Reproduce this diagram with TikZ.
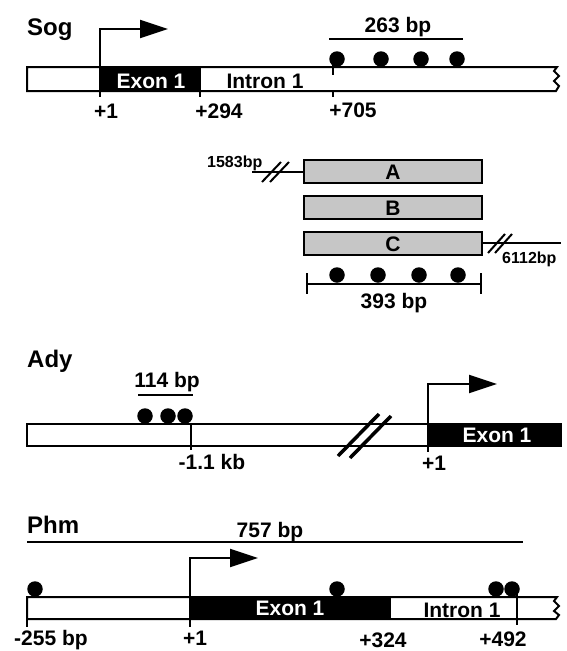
\documentclass[tikz,border=0pt]{standalone}
\usepackage{fontspec}
\setmainfont{Liberation Sans}
\usetikzlibrary{arrows.meta}
\begin{document}
\begin{tikzpicture}[x=1pt,y=-1pt,
  lbl/.style={font=\fontsize{21}{21}\selectfont\bfseries, inner sep=0pt, anchor=base},
  ttl/.style={font=\fontsize{24}{24}\selectfont\bfseries, inner sep=0pt, anchor=base west},
  smalllbl/.style={font=\fontsize{16}{16}\selectfont\bfseries, inner sep=0pt, anchor=base west},
  wlbl/.style={lbl, text=white},
  barw/.style={draw, line width=2pt, fill=white, line join=miter},
  exonbox/.style={draw, line width=2pt, fill=black},
  tss/.style={line width=2pt, -{Triangle[length=28pt,width=18pt]}},
  dotc/.style={fill=black, circle, minimum size=15.5pt, inner sep=0pt},
  ln/.style={line width=2pt},
  slash/.style={line width=2pt},
  bigslash/.style={line width=3.5pt},
  gbox/.style={draw, line width=2pt, fill=gray!45}]
\useasboundingbox (0,0) rectangle (567,651);

% ================= Sog =================
\node[ttl] (sogT) at (27,35) {Sog};
\draw[barw] (27,67) -- (557,67) -- (554,71) -- (559,76) -- (554,81) -- (559,86) -- (556,91) -- (27,91) -- cycle;
\draw[exonbox] (100,67) rectangle (200,91);
\node[wlbl] (sogEx) at (151,88) {Exon 1};
\node[lbl] (sogIn) at (265,88) {Intron 1};
\coordinate (sogS) at (100,67);
\coordinate (sogA) at (168,29);
\draw[tss] (sogS) |- (sogA);
\coordinate (sogt1a) at (100,91); \coordinate (sogt1b) at (100,97);
\coordinate (sogt2a) at (200,91); \coordinate (sogt2b) at (200,97);
\coordinate (sogt3a) at (333,59); \coordinate (sogt3b) at (333,75);
\coordinate (sogt3c) at (333,91); \coordinate (sogt3d) at (333,97);
\draw[ln] (sogt1a) -- (sogt1b);
\draw[ln] (sogt2a) -- (sogt2b);
\draw[ln] (sogt3a) -- (sogt3b);
\draw[ln] (sogt3c) -- (sogt3d);
\node[lbl] (sogP1) at (106,118) {+1};
\node[lbl] (sogP2) at (219,118) {+294};
\node[lbl] (sogP3) at (353,117) {+705};
\coordinate (sogL1) at (329,39); \coordinate (sogL2) at (463,39);
\draw[ln] (sogL1) -- (sogL2);
\node[lbl] (sog263) at (398,32) {263 bp};
\node[dotc] (sd1) at (337,59) {};
\node[dotc] (sd2) at (381,59) {};
\node[dotc] (sd3) at (421,59) {};
\node[dotc] (sd4) at (457,59) {};

% ================= A B C =================
\draw[gbox] (304,160) rectangle (482,183);
\draw[gbox] (304,196) rectangle (482,219);
\draw[gbox] (304,232) rectangle (482,255);
\node[lbl] (bA) at (393,179) {A};
\node[lbl] (bB) at (393,215) {B};
\node[lbl] (bC) at (393,251) {C};
\coordinate (lA1) at (252,172); \coordinate (lA2) at (304,172);
\draw[ln] (lA1) -- (lA2);
\draw[slash] (262,182) -- (281,162);
\draw[slash] (270,182) -- (289,162);
\node[smalllbl] (t1583) at (207,167) {1583bp};
\coordinate (lC1) at (482,243); \coordinate (lC2) at (561,243);
\draw[ln] (lC1) -- (lC2);
\draw[slash] (488,253) -- (505,234);
\draw[slash] (495,253) -- (512,234);
\node[smalllbl] (t6112) at (502,263) {6112bp};
\coordinate (s393a) at (307,284); \coordinate (s393b) at (481,284);
\draw[ln] (s393a) -- (s393b);
\draw[ln] (307,273) -- (307,294);
\draw[ln] (481,273) -- (481,294);
\node[dotc] (cd1) at (337,275) {};
\node[dotc] (cd2) at (378,275) {};
\node[dotc] (cd3) at (419,275) {};
\node[dotc] (cd4) at (458,275) {};
\node[lbl] (t393) at (394,308) {393 bp};

% ================= Ady =================
\node[ttl] (adyT) at (27,367) {Ady};
\draw[barw] (27,424) rectangle (428,446);
\draw[exonbox] (428,424) rectangle (561,446);
\node[wlbl] (adyEx) at (497,442) {Exon 1};
\draw[bigslash] (338,456) -- (379,414);
\draw[bigslash] (350,458) -- (391,416);
\coordinate (adyS) at (428,424);
\coordinate (adyA) at (497,384);
\draw[tss] (adyS) |- (adyA);
\draw[ln] (428,446) -- (428,452);
\coordinate (adyt1) at (191,424); \coordinate (adyt2) at (191,450);
\draw[ln] (adyt1) -- (adyt2);
\coordinate (adyL1) at (138,395); \coordinate (adyL2) at (193,395);
\draw[ln] (adyL1) -- (adyL2);
\node[lbl] (ady114) at (167,387) {114 bp};
\node[dotc] (ad1) at (145,416) {};
\node[dotc] (ad2) at (168,416) {};
\node[dotc] (ad3) at (185,416) {};
\node[lbl] (adyKb) at (212,469) {-1.1 kb};
\node[lbl] (adyP1) at (434,470) {+1};

% ================= Phm =================
\node[ttl] (phmT) at (27,533) {Phm};
\coordinate (phL1) at (27,542); \coordinate (phL2) at (523,542);
\draw[ln] (phL1) -- (phL2);
\node[lbl] (ph757) at (270,537) {757 bp};
\draw[barw] (27,597) -- (557,597) -- (554,601) -- (559,606) -- (554,611) -- (559,615) -- (556,619) -- (27,619) -- cycle;
\draw[exonbox] (190,597) rectangle (390,619);
\node[wlbl] (phEx) at (290,615) {Exon 1};
\node[lbl] (phIn) at (462,617) {Intron 1};
\coordinate (phS) at (190,597);
\coordinate (phA) at (258,558);
\draw[tss] (phS) |- (phA);
\draw[ln] (27,619) -- (27,627);
\draw[ln] (190,619) -- (190,627);
\coordinate (pht1) at (517,589); \coordinate (pht2) at (517,625);
\draw[ln] (pht1) -- (pht2);
\node[dotc] (pd1) at (35,589) {};
\node[dotc] (pd2) at (337,589) {};
\node[dotc] (pd3) at (496,589) {};
\node[dotc] (pd4) at (512,589) {};
\node[lbl] (phM255) at (51,645) {-255 bp};
\node[lbl] (phP1) at (195,645) {+1};
\node[lbl] (phP324) at (383,647) {+324};
\node[lbl] (phP492) at (503,646) {+492};
\end{tikzpicture}
\end{document}
